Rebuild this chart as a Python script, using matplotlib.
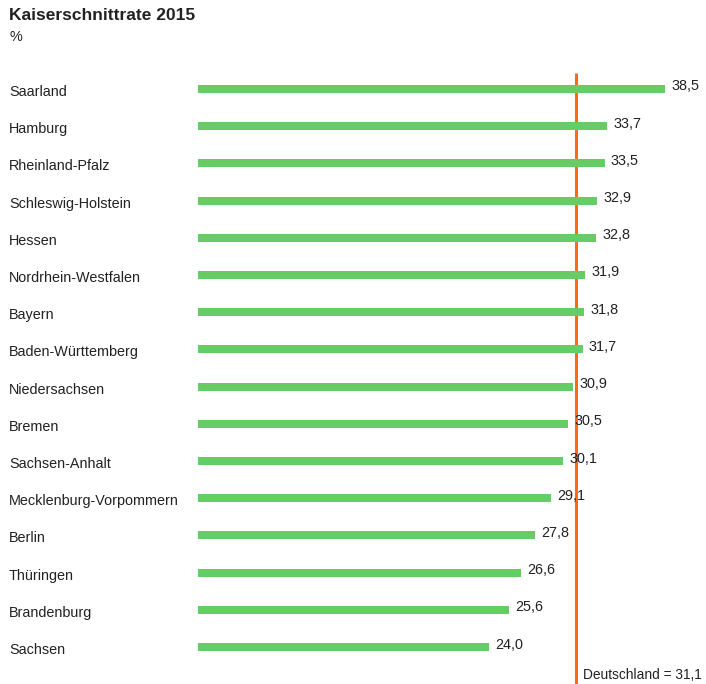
import matplotlib
matplotlib.use("Agg")
import matplotlib.pyplot as plt
import matplotlib.transforms as mtransforms

plt.rcParams['font.family'] = ['Liberation Sans', 'DejaVu Sans']

states = ["Saarland", "Hamburg", "Rheinland-Pfalz", "Schleswig-Holstein", "Hessen",
          "Nordrhein-Westfalen", "Bayern", "Baden-Württemberg", "Niedersachsen",
          "Bremen", "Sachsen-Anhalt", "Mecklenburg-Vorpommern", "Berlin",
          "Thüringen", "Brandenburg", "Sachsen"]
rates = [38.5, 33.7, 33.5, 32.9, 32.8, 31.9, 31.8, 31.7, 30.9,
         30.5, 30.1, 29.1, 27.8, 26.6, 25.6, 24.0]
national = 31.1

W, H = 706, 684
fig = plt.figure(figsize=(W / 100, H / 100), dpi=100)
fig.patch.set_facecolor("white")

x0 = 198
px_per_unit = 12.14
ax = fig.add_axes([x0 / W, 0, (W - x0) / W, 1])
ax.set_xlim(0, (W - x0) / px_per_unit)
row = 37.2
ax.set_ylim((H - 89) / row, -89 / row)
ax.axis("off")

green = "#66cc66"
orange = "#ff6a13"
text_c = "#222222"
fs = 10.4

pos = list(range(len(states)))
ax.barh(pos, rates, height=8 / row, color=green, edgecolor="none", zorder=2)

# national average line
ax.plot([national, national], [-16 / row, (H - 89) / row], color=orange, lw=2.2,
        solid_capstyle="butt", zorder=1)

for p, v in zip(pos, rates):
    ax.text(v + 6 / px_per_unit, p - 2.5 / row, f"{v:.1f}".replace(".", ","),
            ha="left", va="center", fontsize=fs, color=text_c, zorder=3)

trans = mtransforms.blended_transform_factory(fig.transFigure, ax.transData)
for p, s in zip(pos, states):
    ax.text(9 / W, p + 3 / row, s, transform=trans, ha="left", va="center",
            fontsize=fs, color=text_c)

ax.text(national + 7 / px_per_unit, (675 - 89) / row,
        f"Deutschland = {national:.1f}".replace(".", ","),
        ha="left", va="center", fontsize=9.9, color=text_c)

fig.text(9 / W, 1 - 16 / H, "Kaiserschnittrate 2015", ha="left", va="center",
         fontsize=12.5, fontweight="bold", color=text_c)
fig.text(9 / W, 1 - 37 / H, "%", ha="left", va="center", fontsize=fs, color=text_c)

fig.savefig("out.png", dpi=100, facecolor="white")
